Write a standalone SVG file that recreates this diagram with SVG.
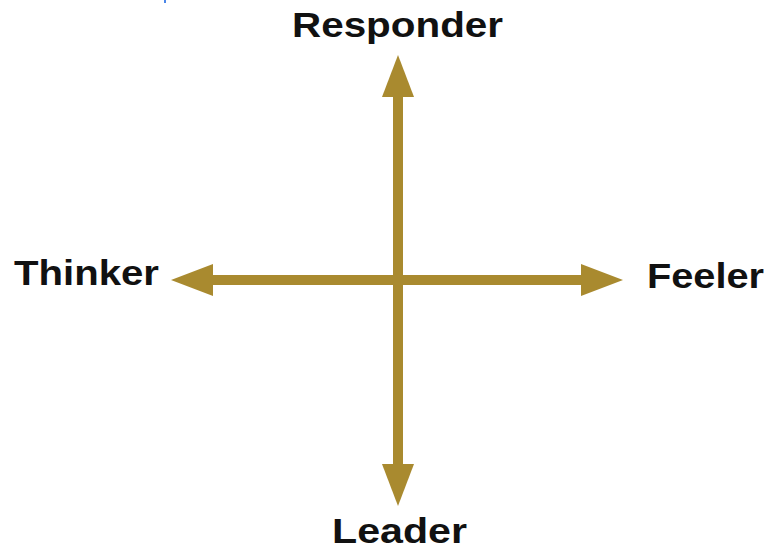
<svg xmlns="http://www.w3.org/2000/svg" width="769" height="551" viewBox="0 0 769 551">
  <style>
    .lbl { font-family: "Liberation Sans", Arial, Helvetica, sans-serif; font-weight: bold; font-size: 35px; fill: #111111; }
    .axis { stroke: #a98a2f; stroke-width: 10; fill: none; }
  </style>
  <defs>
    <marker id="head" markerUnits="userSpaceOnUse" viewBox="0 0 42 32" markerWidth="42" markerHeight="32" refX="0" refY="16" orient="auto-start-reverse">
      <path d="M0,0 L42,16 L0,32 Z" fill="#a98a2f"/>
    </marker>
  </defs>
  <rect width="769" height="551" fill="#ffffff"/>
  <rect x="164" y="0" width="2" height="3" fill="#4a86e8"/>
  <g id="connectors">
    <line class="axis" x1="398" y1="97" x2="398" y2="464" marker-start="url(#head)" marker-end="url(#head)"/>
    <line class="axis" x1="213" y1="280" x2="581" y2="280" marker-start="url(#head)" marker-end="url(#head)"/>
  </g>
  <g id="responder">
    <text class="lbl" x="292" y="37" textLength="211" lengthAdjust="spacingAndGlyphs">Responder</text>
  </g>
  <g id="thinker">
    <text class="lbl" x="14" y="285" textLength="145" lengthAdjust="spacingAndGlyphs">Thinker</text>
  </g>
  <g id="feeler">
    <text class="lbl" x="647" y="288" textLength="117" lengthAdjust="spacingAndGlyphs">Feeler</text>
  </g>
  <g id="leader">
    <text class="lbl" x="332" y="543" textLength="135" lengthAdjust="spacingAndGlyphs">Leader</text>
  </g>
</svg>
